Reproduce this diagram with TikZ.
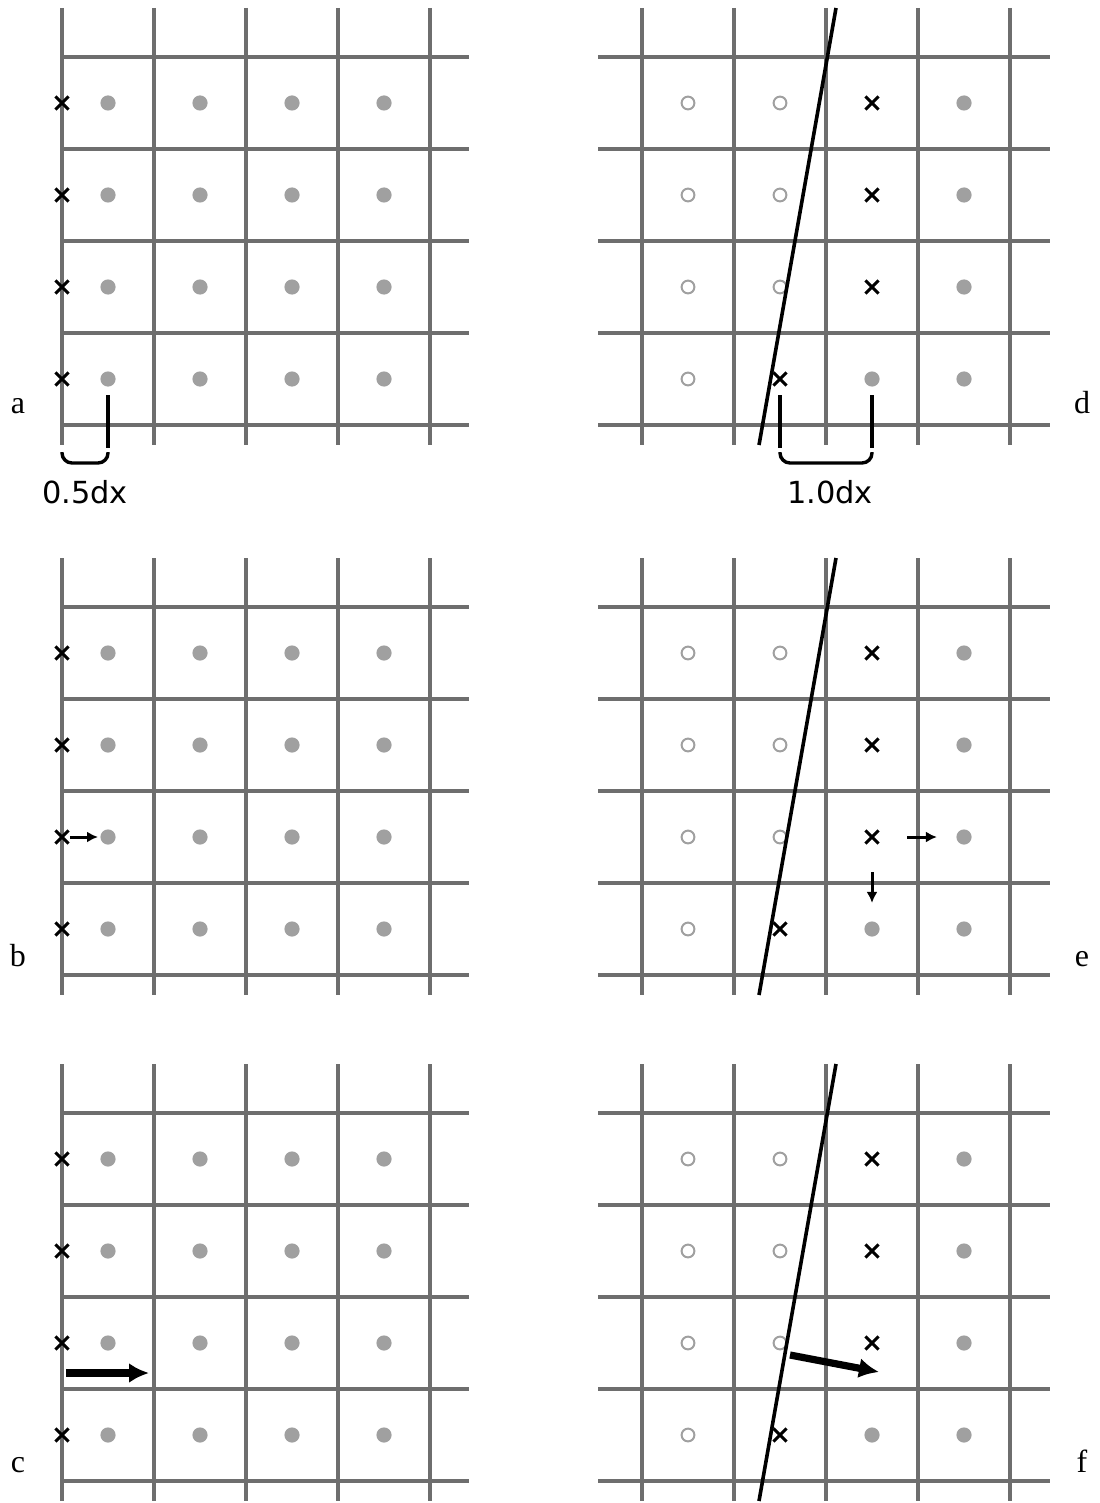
\documentclass[tikz,border=0pt]{standalone}
\usepackage{fontspec}
\setmainfont{Liberation Serif}
\newfontfamily\dejavu{DejaVu Sans}
\usetikzlibrary{arrows.meta,shapes.misc}
\definecolor{gridc}{HTML}{6E6E6E}
\definecolor{dotc}{HTML}{A0A0A0}
\begin{document}
\begin{tikzpicture}[x=0.5pt,y=-0.5pt,
  gridline/.style={gridc,line width=2pt},
  dotn/.style={circle,fill=dotc,draw=none,minimum size=7.6pt,inner sep=0pt,outer sep=0pt},
  openn/.style={circle,draw=dotc,fill=none,line width=1pt,minimum size=6.4pt,inner sep=0pt},
  xn/.style={cross out,draw=black,line width=1.5pt,minimum size=6.6pt,inner sep=0pt,outer sep=0pt},
  slantline/.style={black,line width=1.8pt},
  bracketline/.style={black,line width=1.7pt},
  smallarrow/.style={black,line width=1.5pt,-{Latex[length=5.5pt,width=5.5pt]}},
  bigarrow/.style={black,line width=3.6pt,-{Latex[length=10pt,width=10pt]}},
  panellabel/.style={font=\fontsize{16}{16}\selectfont,anchor=base,inner sep=0pt},
  dxlabel/.style={font=\dejavu\fontsize{15.2}{15.2}\selectfont,anchor=base,inner sep=0pt}]
\useasboundingbox (0,0) rectangle (1099,1503);
% ---------------- left panels ----------------
\foreach \oy/\p/\lb in {0/a/413,550/b/966,1056/c/1472}{
  \foreach \i in {0,...,4}{
    \draw[gridline] ({62+92*\i},{\oy+8}) -- ({62+92*\i},{\oy+445});
    \draw[gridline] (62,{\oy+57+92*\i}) -- (469,{\oy+57+92*\i});
  }
  \foreach \j in {0,...,3}{
    \node[xn] (\p-x-\j) at (62,{\oy+103+92*\j}) {};
    \foreach \i in {0,...,3}{
      \node[dotn] (\p-d-\i-\j) at ({108+92*\i},{\oy+103+92*\j}) {};
    }
  }
  \node[panellabel] (\p-lab) at (18,\lb) {\p};
}
% ---------------- right panels ----------------
\foreach \oy/\p/\lb in {0/d/413,550/e/966,1056/f/1472}{
  \foreach \i in {0,...,4}{
    \draw[gridline] ({642+92*\i},{\oy+8}) -- ({642+92*\i},{\oy+445});
    \draw[gridline] (598,{\oy+57+92*\i}) -- (1050,{\oy+57+92*\i});
  }
  \foreach \j in {0,...,2}{
    \node[openn] (\p-o-0-\j) at (688,{\oy+103+92*\j}) {};
    \node[openn] (\p-o-1-\j) at (780,{\oy+103+92*\j}) {};
    \node[xn] (\p-x-\j) at (872,{\oy+103+92*\j}) {};
    \node[dotn] (\p-d-3-\j) at (964,{\oy+103+92*\j}) {};
  }
  \node[openn] (\p-o-0-3) at (688,{\oy+379}) {};
  \node[xn] (\p-x-3) at (780,{\oy+379}) {};
  \node[dotn] (\p-d-2-3) at (872,{\oy+379}) {};
  \node[dotn] (\p-d-3-3) at (964,{\oy+379}) {};
  \coordinate (\p-s1) at (759,{\oy+445});
  \coordinate (\p-s2) at (836,{\oy+8});
  \draw[slantline] (\p-s1) -- (\p-s2);
  \node[panellabel] (\p-lab) at (1082,\lb) {\p};
}
% ---------------- brackets (a, d) ----------------
\coordinate (ab1) at (108,395); \coordinate (ab2) at (108,448);
\draw[bracketline] (ab1) -- (ab2);
\draw[bracketline,rounded corners=5pt] (62,452) -- (62,463) -- (108,463) -- (108,452);
\node[dxlabel] (alab) at (85,503) {0.5dx};
\coordinate (db1) at (780,395); \coordinate (db2) at (780,448);
\coordinate (db3) at (872,395); \coordinate (db4) at (872,448);
\draw[bracketline] (db1) -- (db2);
\draw[bracketline] (db3) -- (db4);
\draw[bracketline,rounded corners=5pt] (780,452) -- (780,463) -- (872,463) -- (872,452);
\node[dxlabel] (dlab) at (830,503) {1.0dx};
% ---------------- arrows ----------------
\draw[smallarrow,shorten <=0.6pt,shorten >=1.2pt] (b-x-2) -- (b-d-0-2);
\draw[smallarrow,shorten <=14.2pt,shorten >=9.75pt] (e-x-2) -- (e-d-3-2);
\draw[smallarrow,shorten <=14.2pt,shorten >=9.25pt] (e-x-2) -- (e-d-2-3);
\coordinate (c-a1) at (66,1373); \coordinate (c-a2) at (149,1373);
\draw[bigarrow] (c-a1) -- (c-a2);
\coordinate (f-a1) at (790,1355); \coordinate (f-a2) at (879,1372);
\draw[bigarrow] (f-a1) -- (f-a2);
\end{tikzpicture}
\end{document}
